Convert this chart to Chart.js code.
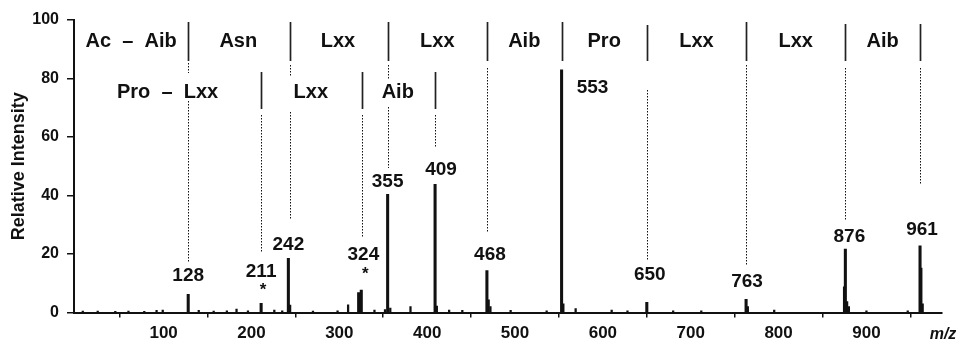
<!DOCTYPE html>
<html>
<head>
<meta charset="utf-8">
<script src="https://cdn.jsdelivr.net/npm/chart.js@4.4.1/dist/chart.umd.min.js"></script>
<style>
  body { margin: 0; background: #fff; }
  canvas { display: block; }
</style>
</head>
<body>
<canvas id="spectrum" width="959" height="344"></canvas>
<script>
// main peaks (m/z, relative intensity)
var peakMz  = [128, 211, 242, 322, 325, 355, 409, 468, 553, 650, 763, 875, 876, 961, 962];
var peakInt = [6.2, 3.1, 18.5, 6.8, 7.7, 40.4, 43.8, 14.3, 83, 3.5, 4.5, 8.8, 21.7, 22.8, 15.2];

// small peaks / baseline noise
var minorMz  = [8, 25, 45, 60, 78, 92, 99, 140, 157, 172, 183, 196, 226, 235, 244, 270, 298, 310, 340, 352, 358, 381, 411, 425, 440, 470, 472, 495, 536, 555, 569, 610, 628, 680, 712, 765, 795, 878, 880, 900, 947, 964];
var minorInt = [0.5, 0.5, 0.4, 0.5, 0.4, 0.7, 0.8, 0.7, 0.5, 0.6, 1.2, 0.6, 0.8, 0.6, 2.5, 0.5, 0.6, 2.6, 0.8, 1.0, 1.5, 2.0, 2.2, 0.8, 0.7, 4.3, 2.0, 0.7, 0.6, 3.0, 1.3, 0.8, 0.6, 0.6, 0.6, 2.0, 0.8, 3.7, 2.0, 0.6, 0.6, 3.0];

// labelled fragment masses
var labelMz = [128, 211, 242, 324, 355, 409, 468, 553, 650, 763, 876, 961];
var starred = [211, 324];

// sequence ladders
var topBounds = [128, 242, 355, 468, 553, 650, 763, 876, 961];
var topNames  = ["Ac  \u2013  Aib", "Asn", "Lxx", "Lxx", "Aib", "Pro", "Lxx", "Lxx", "Aib"];
var lowBounds = [211, 324, 409];
var lowNames  = ["Pro  \u2013  Lxx", "Lxx", "Aib"];

var ink = "#111";
var fontFam = "'Liberation Sans', Arial, Helvetica, sans-serif";

function pts(xs, ys) {
	return xs.map(function (x, i) { return { x: x, y: ys[i] }; });
}

// label placement tweaks (px): dy = distance above peak top
var labelPos = {
	128: { dx: 0, dy: 19 }, 211: { dx: 0, dy: 32 }, 242: { dx: 0, dy: 14 },
	324: { dx: 3, dy: 35 }, 355: { dx: 0, dy: 13 }, 409: { dx: 6, dy: 15 },
	468: { dx: 3, dy: 16 }, 553: { dx: 31, dy: -18 }, 650: { dx: 3, dy: 27 },
	763: { dx: 1, dy: 18 }, 876: { dx: 4, dy: 12 }, 961: { dx: 2, dy: 16 }
};

// boundary line segments in intensity units: s = solid, d = dotted
var ladderLines = {
	128: [["s", 99.3, 86], ["d", 85.3, 81.9], ["d", 72.3, 17.3]],
	242: [["s", 99.3, 86], ["d", 84.6, 80.5], ["d", 68.5, 31.6]],
	355: [["s", 99.3, 86], ["d", 84.6, 79.5], ["d", 70.3, 49.4]],
	468: [["s", 99.3, 86], ["d", 83.6, 27.2]],
	553: [["s", 99.3, 86]],
	650: [["s", 98.3, 86], ["d", 76.1, 17.9]],
	763: [["s", 99.3, 86], ["d", 84.6, 16.2]],
	876: [["s", 98.6, 86], ["d", 83.6, 31.6]],
	961: [["s", 98.6, 86], ["d", 83.6, 43.6]],
	211: [["s", 82.3, 69.6], ["d", 67.5, 20.8]],
	324: [["s", 82.3, 69.6], ["d", 67.5, 25.5]],
	409: [["s", 82.3, 69.6], ["d", 67.5, 56.2]]
};
var lineShift = { 242: 2, 324: 2 };

var annotate = {
	id: "annotate",
	afterDraw: function (chart) {
		var c = chart.ctx, xs = chart.scales.x, ys = chart.scales.y, area = chart.chartArea;
		c.save();

		// ladder lines
		Object.keys(ladderLines).forEach(function (k) {
			var px = Math.round(xs.getPixelForValue(+k) + (lineShift[k] || 0)) + 0.5;
			ladderLines[k].forEach(function (seg) {
				c.beginPath();
				if (seg[0] === "s") {
					c.setLineDash([]);
					c.lineWidth = 1.7;
					c.strokeStyle = "#222";
				} else {
					c.setLineDash([1.5, 1.5]);
					c.lineWidth = 1;
					c.strokeStyle = "#111";
				}
				c.moveTo(px, Math.round(ys.getPixelForValue(seg[1])));
				c.lineTo(px, Math.round(ys.getPixelForValue(seg[2])));
				c.stroke();
			});
		});
		c.setLineDash([]);

		// ladder names
		c.fillStyle = ink;
		c.font = "bold 20px " + fontFam;
		c.textAlign = "center";
		c.textBaseline = "middle";
		var prev = area.left;
		topBounds.forEach(function (b, i) {
			var p = xs.getPixelForValue(b);
			c.fillText(topNames[i], (prev + p) / 2, ys.getPixelForValue(92.6));
			prev = p;
		});
		prev = area.left;
		lowBounds.forEach(function (b, i) {
			var p = xs.getPixelForValue(b);
			c.fillText(lowNames[i], (prev + p) / 2, ys.getPixelForValue(75.3));
			prev = p;
		});

		// peak labels
		c.font = "bold 19px " + fontFam;
		labelMz.forEach(function (m) {
			var best = 0;
			peakMz.forEach(function (pm, i) {
				if (Math.abs(pm - m) <= 2) best = Math.max(best, peakInt[i]);
			});
			var lp = labelPos[m];
			var x = xs.getPixelForValue(m) + lp.dx;
			var y = ys.getPixelForValue(best) - lp.dy;
			c.fillText(String(m), x, y);
			if (starred.indexOf(m) >= 0) {
				c.font = "bold 17px " + fontFam;
				c.fillText("*", x + 2, y + 19);
				c.font = "bold 19px " + fontFam;
			}
		});

		// axis unit
		c.font = "italic bold 16px " + fontFam;
		c.fillText("m/z", area.right + 1, 335);
		c.restore();
	}
};

var chart = new Chart(document.getElementById("spectrum"), {
	type: "bar",
	data: {
		datasets: [
			{
				data: pts(peakMz, peakInt),
				backgroundColor: ink,
				barThickness: 2.4,
				grouped: false
			},
			{
				data: pts(minorMz, minorInt),
				backgroundColor: ink,
				barThickness: 1.6,
				grouped: false
			}
		]
	},
	options: {
		responsive: false,
		animation: false,
		layout: { padding: { top: 20, right: 17, left: 0, bottom: 0 } },
		plugins: {
			legend: { display: false },
			tooltip: { enabled: false }
		},
		scales: {
			x: {
				type: "linear",
				min: -2,
				max: 986,
				offset: false,
				afterBuildTicks: function (s) {
					s.ticks = s.ticks.filter(function (t) {
						return t.value >= 100 && t.value <= 900 && t.value % 100 === 0;
					});
				},
				afterFit: function (s) { s.height = 31.5; },
				ticks: {
					stepSize: 100,
					maxRotation: 0,
					autoSkip: false,
					padding: 6,
					color: ink,
					font: { family: fontFam, size: 17, weight: "bold" }
				},
				grid: { drawOnChartArea: false, tickLength: 5, color: ink, lineWidth: 1.5 },
				border: { color: ink, width: 2 }
			},
			y: {
				min: 0,
				max: 100,
				afterFit: function (s) { s.width = 74; },
				ticks: {
					stepSize: 20,
					padding: 8,
					color: ink,
					font: { family: fontFam, size: 16, weight: "bold" }
				},
				grid: { drawOnChartArea: false, tickLength: 7, color: ink, lineWidth: 1.5 },
				border: { color: ink, width: 2 },
				title: {
					display: true,
					text: "Relative Intensity",
					color: ink,
					padding: { top: 8, bottom: 0 },
					font: { family: fontFam, size: 18, weight: "bold" }
				}
			}
		}
	},
	plugins: [annotate]
});
</script>
</body>
</html>
